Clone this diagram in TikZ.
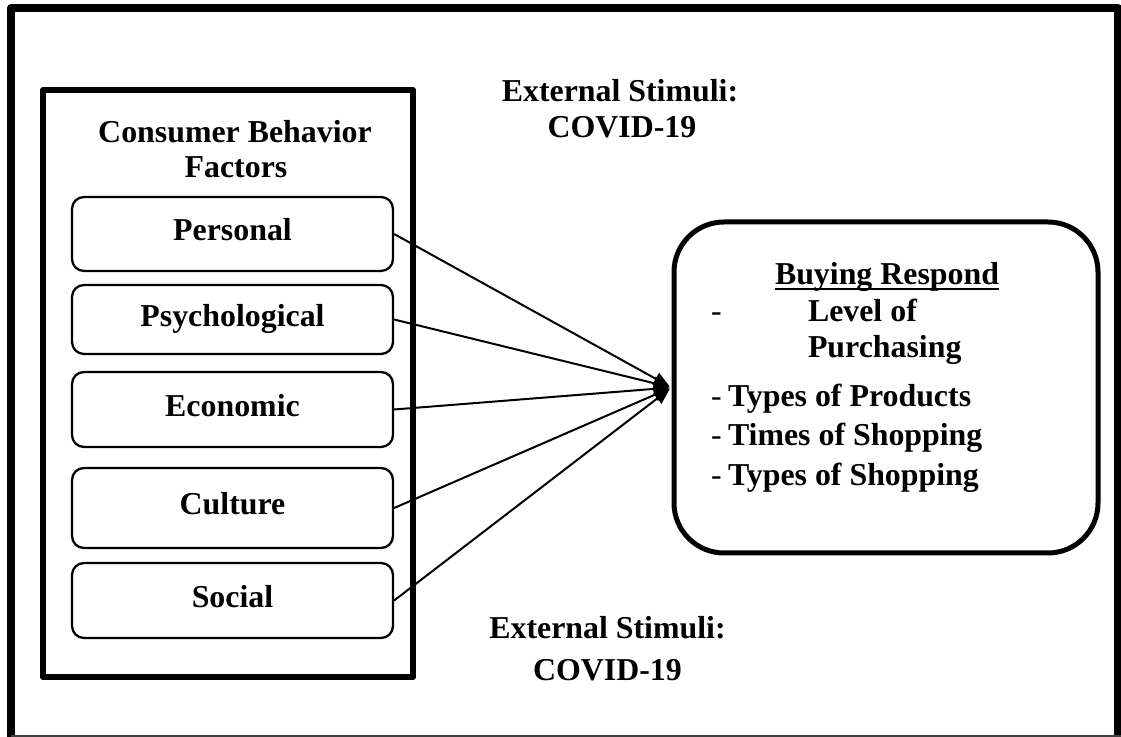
\documentclass[tikz,border=0pt]{standalone}
\usepackage{fontspec}
\setmainfont{Liberation Serif}
\usetikzlibrary{arrows.meta}
\tikzset{
  txt/.style={inner sep=0pt, outer sep=0pt, font=\fontsize{23.9}{26}\selectfont\bfseries},
  dashtxt/.style={inner sep=0pt, outer sep=0pt, font=\fontsize{23.9}{26}\selectfont},
  factorbox/.style={draw, line width=1.7pt, rounded corners=9pt, minimum width=240.75pt,
     text height=10.5pt, text depth=0pt, inner sep=0pt, font=\fontsize{23.9}{26}\selectfont\bfseries},
  conn/.style={line width=1.5pt, -{Triangle[length=12pt,width=10pt]}, shorten >=1.5pt},
}
\begin{document}
\begin{tikzpicture}[x=0.75pt,y=-0.75pt]
\useasboundingbox (0,0) rectangle (1121,737);
\clip (0,0) rectangle (1121,737);
% outer frame
\draw[line width=5.8pt, line join=round] (11,760) -- (11,8) -- (1118,8) -- (1118,760);
\draw[line width=1.1pt, black!75] (11,736) -- (1121,736);
% left container
\node[draw, line width=4.5pt, line join=round, minimum width=277.5pt, minimum height=440.25pt, inner sep=0pt] (cbf) at (228,383.5) {};
\node[txt, anchor=base] (t1) at (235,143) {Consumer Behavior};
\node[txt, anchor=base] (t2) at (236,178) {Factors};
% factor boxes
\node[factorbox, minimum height=55.5pt] (personal) at (232.5,234) {Personal};
\node[factorbox, minimum height=51.75pt] (psych) at (232.5,319.5) {Psychological};
\node[factorbox, minimum height=56.25pt] (econ) at (232.5,409.5) {Economic};
\node[factorbox, minimum height=60pt] (cult) at (232.5,508) {Culture};
\node[factorbox, minimum height=56.25pt] (soc) at (232.5,600.5) {Social};
% response box
\node[draw, line width=3.75pt, rounded corners=37.5pt, minimum width=318pt, minimum height=248.25pt, inner sep=0pt] (resp) at (886,387.5) {};
\node[txt, anchor=base west] (br) at (775,285) {Buying Respond};
\draw[line width=1.4pt] ([yshift=-3pt]br.base west) -- ([yshift=-3pt]br.base east);
\node[dashtxt, anchor=base west] (d1) at (711,322) {-};
\node[txt, anchor=base west] (l1) at (808,322) {Level of};
\node[txt, anchor=base west] (l2) at (808,358) {Purchasing};
\node[dashtxt, anchor=base west] (d2) at (711,407) {-};
\node[txt, anchor=base west] (l3) at (728,407) {Types of Products};
\node[dashtxt, anchor=base west] (d3) at (711,446) {-};
\node[txt, anchor=base west] (l4) at (728,446) {Times of Shopping};
\node[dashtxt, anchor=base west] (d4) at (711,486) {-};
\node[txt, anchor=base west] (l5) at (728,486) {Types of Shopping};
% external stimuli
\node[txt, anchor=base] (es1) at (620,102) {External Stimuli:};
\node[txt, anchor=base] (cv1) at (622,138) {COVID-19};
\node[txt, anchor=base] (es2) at (607.5,638) {External Stimuli:};
\node[txt, anchor=base] (cv2) at (607.5,680) {COVID-19};
% connectors
\draw[conn] (personal.east) -- (resp.west);
\draw[conn] (psych.east) -- (resp.west);
\draw[conn] (econ.east) -- (resp.west);
\draw[conn] (cult.east) -- (resp.west);
\draw[conn] (soc.east) -- (resp.west);
\end{tikzpicture}
\end{document}
